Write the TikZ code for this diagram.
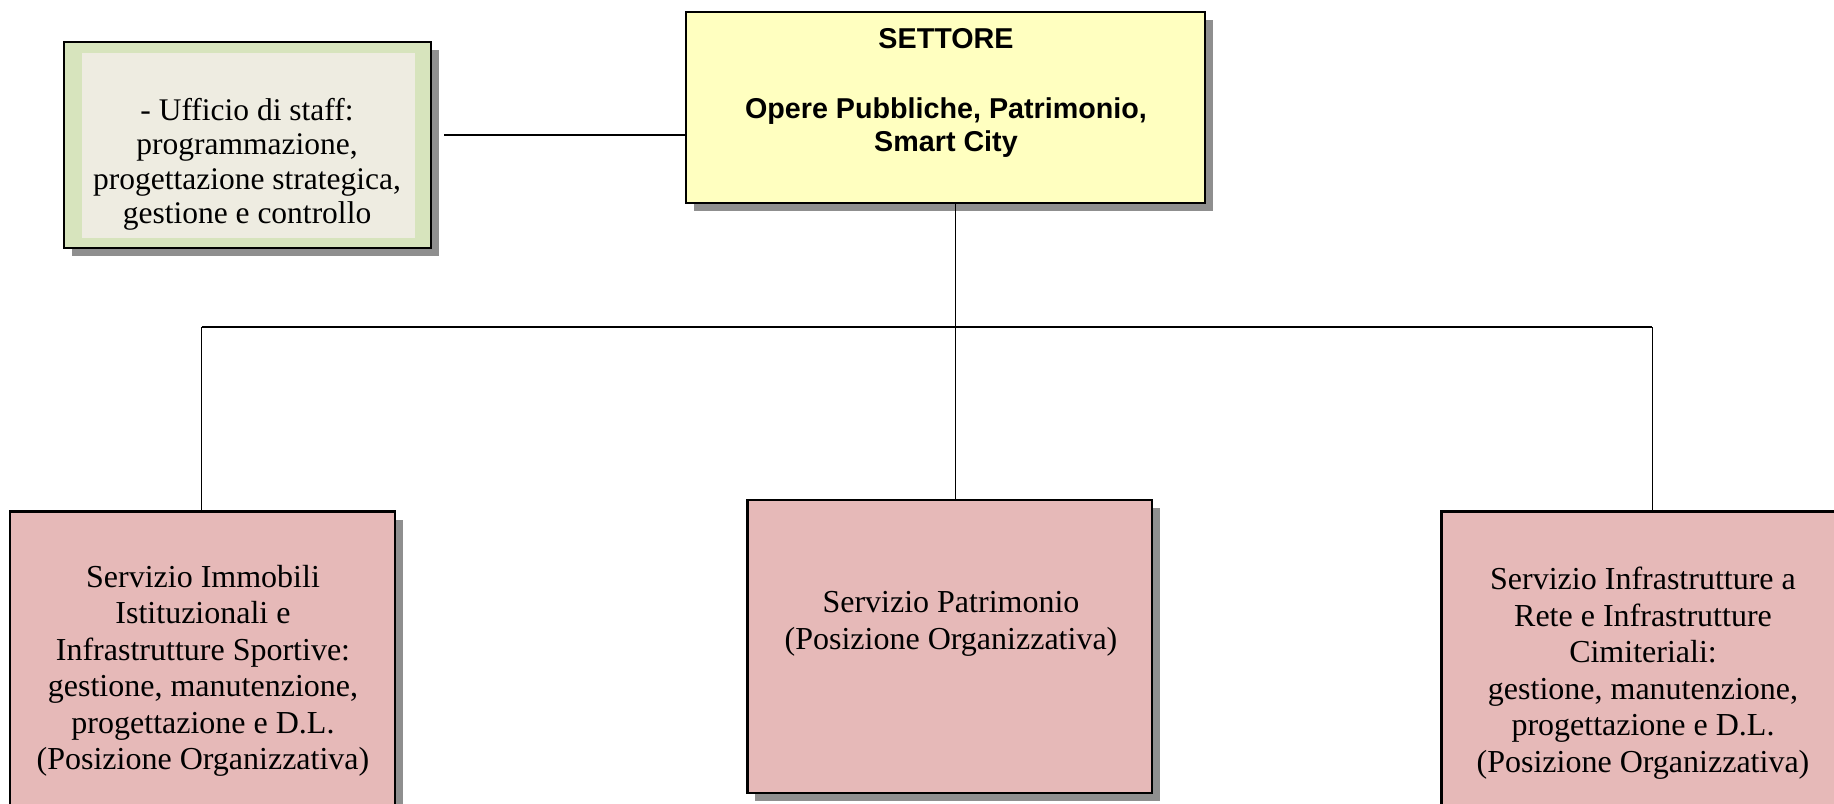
\documentclass[tikz,border=0pt]{standalone}
\usepackage{fontspec}
\setmainfont{Liberation Serif}
\newfontfamily\sansf{Liberation Sans}
\usetikzlibrary{shadows}
\definecolor{staffout}{HTML}{D7E4BD}
\definecolor{staffinner}{HTML}{EEECE1}
\definecolor{settfill}{HTML}{FFFFC0}
\definecolor{svcfill}{HTML}{E6B9B8}
\definecolor{shad}{HTML}{8F8F8F}
\tikzset{
  box/.style={draw=black, line width=2.5bp, inner sep=0pt, outer sep=0pt, anchor=north west,
    general shadow={fill=shad, shadow xshift=8bp, shadow yshift=-8bp}},
  conn/.style={draw=black, line width=1.4bp},
  svctext/.style={font=\fontsize{32bp}{36.5bp}\selectfont, align=center, anchor=north, inner sep=0pt},
  stafftext/.style={font=\fontsize{31.5bp}{34.5bp}\selectfont, align=center, anchor=north, inner sep=0pt},
  setttext/.style={font=\sansf\bfseries\fontsize{28.7bp}{33.5bp}\selectfont, align=center, anchor=north, inner sep=0pt},
}
\begin{document}
\begin{tikzpicture}[x=1bp, y=-1bp]
\useasboundingbox (0,0) rectangle (1834,804);
\fill[white] (0,0) rectangle (1834,804);

% boxes
\node[box, fill=staffout, minimum width=367bp, minimum height=206bp] (staff) at (64,42) {};
\node[fill=staffinner, inner sep=0pt, outer sep=0pt, anchor=north west, minimum width=333bp, minimum height=185bp] (staffin) at (82,53) {};
\node[box, fill=settfill, minimum width=519bp, minimum height=191bp] (settore) at (686,12) {};
\node[box, fill=svcfill, minimum width=385bp, minimum height=310bp] (svc1) at (10,511.7) {};
\node[box, fill=svcfill, minimum width=404.7bp, minimum height=293bp] (svc2) at (747.3,500) {};
\node[box, fill=svcfill, minimum width=402bp, minimum height=310bp] (svc3) at (1441.7,511.7) {};

% connectors
\coordinate (s0) at (444,135);
\coordinate (bus) at (955.7,327);
\coordinate (b1) at (201.7,327);
\coordinate (b3) at (1652.3,327);
\draw[conn] (s0) -- (s0 -| settore.west);
\draw[conn] (bus |- settore.south) -- (bus);
\draw[conn] (b1) -- (b3);
\draw[conn] (b1) -- (b1 |- svc1.north);
\draw[conn] (bus) -- (bus |- svc2.north);
\draw[conn] (b3) -- (b3 |- svc3.north);

% texts
\node[stafftext] (stafft) at (247,97.8) {- Ufficio di staff:\\programmazione,\\progettazione strategica,\\gestione e controllo};
\node[setttext] (settt) at (946,28.5) {SETTORE\\[36bp]Opere Pubbliche, Patrimonio,\\Smart City};
\node[svctext] (svc1t) at (203,564.8) {Servizio Immobili\\Istituzionali e\\Infrastrutture Sportive:\\gestione, manutenzione,\\progettazione e D.L.\\(Posizione Organizzativa)};
\node[svctext] (svc2t) at (951,591.2) {Servizio Patrimonio\\(Posizione Organizzativa)};
\node[svctext] (svc3t) at (1643,567) {Servizio Infrastrutture a\\Rete e Infrastrutture\\Cimiteriali:\\gestione, manutenzione,\\progettazione e D.L.\\(Posizione Organizzativa)};
\end{tikzpicture}
\end{document}
